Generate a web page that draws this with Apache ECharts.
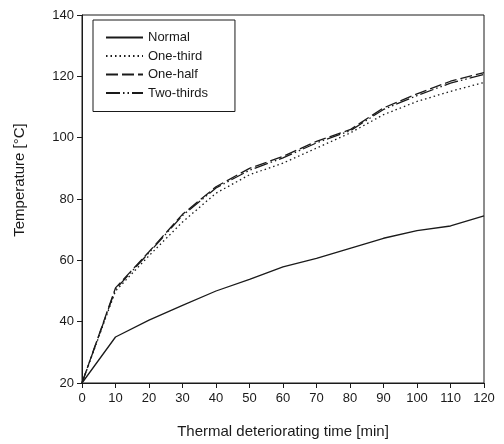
<!DOCTYPE html>
<html>
<head>
<meta charset="utf-8">
<script src="https://cdn.jsdelivr.net/npm/echarts@6/dist/echarts.min.js"></script>
<style>
  html, body { margin: 0; padding: 0; background: #fff; }
  #chart { width: 504px; height: 444px; }
</style>
</head>
<body>
<div id="chart"></div>
<script>
// thermal deteriorating time [min]
var times = [0, 10, 20, 30, 40, 50, 60, 70, 80, 90, 100, 110, 120]
var normal = [20, 35, 40.5, 45.3, 50, 53.8, 57.9, 60.6, 63.9, 67.2, 69.7, 71.2, 74.5]
var oneThird = [20, 50, 61.5, 72.5, 81.9, 87.9, 91.7, 96.6, 101.5, 107.5, 111.8, 115.1, 118]
var oneHalf = [20, 51, 62.8, 75, 84, 90, 93.9, 98.8, 102.6, 109.7, 114.3, 118.4, 121.2]
var twoThirds = [20, 50.6, 62.5, 74.6, 83.6, 89.4, 93.4, 98.3, 102.2, 109.2, 113.7, 117.8, 120.6]

function pairs(ys) {
  return times.map(function (t, i) { return [t, ys[i]] })
}

var ink = '#1a1a1a'
var font = 'Arial, "Liberation Sans", sans-serif'

var chart = echarts.init(document.getElementById('chart'))
var option = {
  backgroundColor: '#fff',
  animation: false,
  grid: {
    left: 82, right: 20, top: 15, bottom: 61,
    show: true, borderColor: ink, borderWidth: 1
  },
  legend: {
    orient: 'vertical',
    left: 93, top: 20,
    padding: [11, 27, 12, 12],
    itemWidth: 37, itemHeight: 10, itemGap: 5.5,
    borderColor: ink, borderWidth: 1,
    itemStyle: { opacity: 0 },
    textStyle: { color: ink, fontFamily: font, fontSize: 13 },
    data: ['Normal', 'One-third', 'One-half', 'Two-thirds']
  },
  xAxis: {
    type: 'value',
    min: 0, max: 120, interval: 10,
    name: 'Thermal deteriorating time [min]',
    nameLocation: 'middle', nameGap: 41,
    nameTextStyle: { color: ink, fontFamily: font, fontSize: 15 },
    axisLine: { lineStyle: { color: ink } },
    axisTick: { length: 5, lineStyle: { color: ink } },
    axisLabel: { color: ink, fontFamily: font, fontSize: 13, margin: 9 },
    splitLine: { show: false }
  },
  yAxis: {
    type: 'value',
    min: 20, max: 140, interval: 20,
    axisLine: { show: true, lineStyle: { color: ink } },
    axisTick: { show: true, length: 5, lineStyle: { color: ink } },
    axisLabel: { color: ink, fontFamily: font, fontSize: 13, margin: 8 },
    splitLine: { show: false }
  },
  graphic: [{
    type: 'text',
    x: 20, y: 180,
    rotation: Math.PI / 2,
    style: {
      text: 'Temperature [°C]',
      fill: ink, font: '15px ' + font,
      align: 'center', verticalAlign: 'middle'
    }
  }],
  series: [
    { name: 'Normal', type: 'line', symbol: 'none', data: pairs(normal),
      lineStyle: { color: ink, width: 1.3, type: 'solid' }, itemStyle: { color: ink } },
    { name: 'One-third', type: 'line', symbol: 'none', data: pairs(oneThird),
      lineStyle: { color: ink, width: 1.3, type: [1.5, 3] }, itemStyle: { color: ink } },
    { name: 'One-half', type: 'line', symbol: 'none', data: pairs(oneHalf),
      lineStyle: { color: ink, width: 1.3, type: [12, 4] }, itemStyle: { color: ink } },
    { name: 'Two-thirds', type: 'line', symbol: 'none', data: pairs(twoThirds),
      lineStyle: { color: ink, width: 1.3, type: [14, 3, 1.5, 3, 1.5, 3] }, itemStyle: { color: ink } }
  ]
}
chart.setOption(option)
</script>
</body>
</html>
